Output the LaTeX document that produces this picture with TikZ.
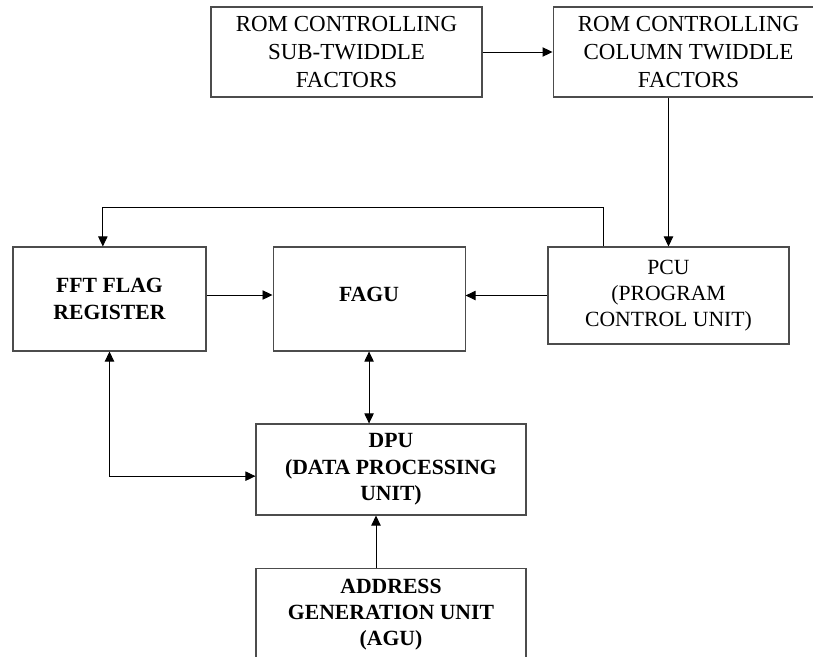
\documentclass[tikz,border=0pt]{standalone}
\usepackage{fontspec}
\setmainfont{Liberation Serif}
\usepackage{tikz}
\usetikzlibrary{arrows.meta, positioning}

\begin{document}
\begin{tikzpicture}[
  blk/.style={
    rectangle, draw=black!70, line width=0.9pt,
    minimum width=8.13cm, minimum height=2.7cm,
    align=center, inner sep=2pt,
    font=\fontsize{18.5}{22.5}\selectfont
  },
  blkb/.style={
    blk, font=\fontsize{18.5}{22.5}\selectfont\bfseries
  },
  rom/.style={
    blk, font=\fontsize{19.6}{23.6}\selectfont
  },
  arr/.style={-{Triangle[length=0.3cm,width=0.28cm]}, line width=0.8pt},
  darr/.style={{Triangle[length=0.3cm,width=0.28cm]}-{Triangle[length=0.3cm,width=0.28cm]}, line width=0.8pt}
]
\useasboundingbox (0,0) rectangle (24.39,-19.68);

\node[rom] (rom1) at (10.395,-1.56) {ROM CONTROLLING\\SUB-TWIDDLE\\FACTORS};
\node[rom, right=2.1cm of rom1] (rom2) {ROM CONTROLLING\\COLUMN TWIDDLE\\FACTORS};

\node[blkb, minimum width=5.79cm, minimum height=3.12cm] (fft) at (3.285,-8.97) {FFT FLAG\\REGISTER};
\node[blkb, minimum width=5.76cm, minimum height=3.12cm, text depth=0.3cm, right=1.98cm of fft] (fagu) {FAGU};
\node[blk, minimum width=7.23cm, minimum height=2.91cm] (pcu) at (20.055,-8.865) {PCU\\(PROGRAM\\CONTROL UNIT)};

\node[blkb, minimum width=8.1cm, minimum height=2.73cm] (dpu) at (11.73,-14.085) {DPU\\(DATA PROCESSING\\UNIT)};
\node[blkb, minimum width=8.1cm, minimum height=2.79cm, below=1.56cm of dpu] (agu) {ADDRESS\\GENERATION UNIT\\(AGU)};

\draw[arr] (rom1.east) -- (rom2.west);
\draw[arr] (rom2.south -| pcu.north) -- (pcu.north);
\draw[arr] ([xshift=-1.96cm]pcu.north) -- ++(0,1.17) -| ([xshift=-0.2cm]fft.north);
\draw[arr] ([yshift=0.12cm]fft.east) -- ([yshift=0.12cm]fagu.west);
\draw[arr] (pcu.west) -- (pcu.west -| fagu.east);
\draw[darr] (fagu.south) -- (fagu.south |- dpu.north);
\draw[darr] (fft.south) |- ([yshift=-0.2cm]dpu.west);
\draw[arr] ([xshift=-0.45cm]agu.north) -- ([xshift=-0.45cm]dpu.south);

\end{tikzpicture}
\end{document}
